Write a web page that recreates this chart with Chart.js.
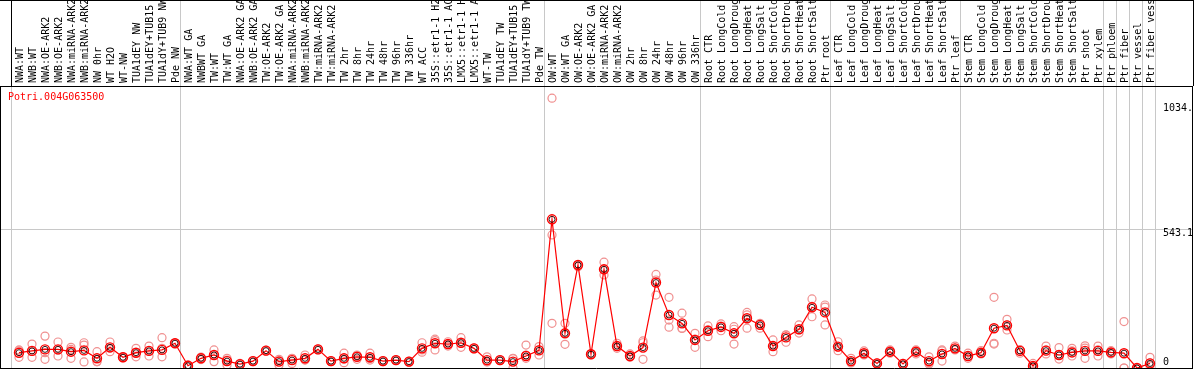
<!DOCTYPE html>
<html><head><meta charset="utf-8">
<script src="https://cdn.jsdelivr.net/npm/chart.js@4.4.1/dist/chart.umd.min.js"></script>
<style>html,body{margin:0;padding:0;background:#fff;overflow:hidden}canvas{display:block}</style>
</head><body>
<canvas id="c" width="1194" height="370"></canvas>
<script>
const geneId = 'Potri.004G063500';
const categories = [
 'NWA:WT','NWB:WT','NWA:OE-ARK2','NWB:OE-ARK2','NWA:miRNA-ARK2','NWB:miRNA-ARK2','NW 0hr','WT H2O','WT-NW','TUA1dEY NW','TUA1dEY+TUB15','TUA1dY+TUB9 NW','Pde NW',
 'NWA:WT GA','NWBWT GA','TW:WT','TW:WT GA','NWA:OE-ARK2 GA','NWB:OE-ARK2 GA','TW:OE-ARK2','TW:OE-ARK2 GA','NWA:miRNA-ARK2','NWB:miRNA-ARK2','TW:miRNA-ARK2','TW:miRNA-ARK2','TW 2hr','TW 8hr','TW 24hr','TW 48hr','TW 96hr','TW 336hr','WT ACC','35S::etr1-1 H2','35S::etr1-1 AC','LMX5::etr1-1 H','LMX5::etr1-1 A','WT-TW','TUA1dEY TW','TUA1dEY+TUB15','TUA1dY+TUB9 TW','Pde TW',
 'OW:WT','OW:WT GA','OW:OE-ARK2','OW:OE-ARK2 GA','OW:miRNA-ARK2','OW:miRNA-ARK2','OW 2hr','OW 8hr','OW 24hr','OW 48hr','OW 96hr','OW 336hr',
 'Root CTR','Root LongCold','Root LongDroug','Root LongHeat','Root LongSalt','Root ShortCold','Root ShortDrou','Root ShortHeat','Root ShortSalt','Ptr root',
 'Leaf CTR','Leaf LongCold','Leaf LongDroug','Leaf LongHeat','Leaf LongSalt','Leaf ShortCold','Leaf ShortDrou','Leaf ShortHeat','Leaf ShortSalt','Ptr leaf',
 'Stem CTR','Stem LongCold','Stem LongDroug','Stem LongHeat','Stem LongSalt','Stem ShortCold','Stem ShortDrou','Stem ShortHeat','Stem ShortSalt','Ptr shoot','Ptr xylem',
 'Ptr phloem','Ptr fiber','Ptr vessel','Ptr fiber vess'
];
const means = [
 60,67,73,73,64,69,38,81,42,60,67,71,97,
 9,38,51,27,15,27,68,25,31,38,73,27,38,44,42,27,31,25,77,97,94,99,77,31,31,25,47,69,
 583,136,404,54,387,86,47,80,335,208,175,110,
 146,161,136,195,169,86,120,152,238,218,
 84,27,58,18,64,16,64,27,55,77,
 47,60,156,167,67,8,68,51,61,67,67,
 61,58,0,18
];
const rep1 = [71,94,125,102,81,99,64,102,45,77,86,119,95, 12,43,71,38,12,27,68,34,38,51,73,27,58,51,58,27,31,25,99,113,103,119,77,44,31,38,90,84, 1058,175,404,54,415,97,55,99,367,277,215,136, 165,173,162,218,175,110,129,169,271,247, 103,38,67,18,71,16,64,44,71,86, 58,68,277,191,58,18,86,80,77,87,86, 55,182,0,42];
const rep2 = [42,42,34,47,38,90,25,64,40,44,47,77,97, 8,38,25,12,18,25,66,12,18,31,71,25,21,34,31,25,29,23,71,71,86,81,75,25,29,0,51,51, 522,93,404,52,365,77,42,106,345,188,156,81, 123,146,94,156,156,64,101,137,201,169, 68,20,51,16,58,14,71,16,27,71, 38,55,97,149,71,0,55,35,47,38,47, 68,0,0,8];
const rep3 = [67,65,60,70,73,24,25,77,42,60,67,44,99, 7,33,51,31,15,29,70,29,37,32,75,29,35,47,37,29,33,27,62,107,93,97,79,24,33,37,38,72, 175,136,397,56,387,84,45,34,286,160,155,113, 150,164,152,208,169,86,130,149,242,239, 82,24,55,20,63,18,55,21,67,74, 45,57,94,169,72,6,71,51,67,78,71, 60,0,0,20];
const groupStarts = [0,13,41,53,63,73,84,85,86,87,88];
const yTicks = [0, 543.1, 1034];
const yTickLabels = [['0','',''],'543.1','1034.'];

const MONO = "'DejaVu Sans Mono','Liberation Mono',monospace";
const xMin = -19/13, xMax = xMin + 1192/13;
const cellShift = 7.7/13;
const yMax = 1105.8;

const meanPts = means.map((v,i)=>({x:i,y:v}));
const repPts = [];
[rep1,rep2,rep3].forEach(r=>r.forEach((v,i)=>{ if(v!==null) repPts.push({x:i,y:v}); }));
const boundaries = groupStarts.map(k=>k-cellShift);

function fixBox(size, dim){
  return function(s){ s[dim] = size; s.paddingLeft = 0; s.paddingRight = 0; s.paddingTop = 0; s.paddingBottom = 0; };
}

const framePlugin = {
  id:'frame',
  afterDraw(chart){
    const c = chart.ctx, a = chart.chartArea;
    c.save();
    c.strokeStyle = '#000'; c.lineWidth = 1;
    c.beginPath();
    c.moveTo(0, 0.5); c.lineTo(1194, 0.5);
    c.moveTo(1193.5, 0); c.lineTo(1193.5, a.top);
    c.stroke();
    c.fillStyle = '#ff0000';
    c.font = '10px ' + MONO;
    c.textBaseline = 'middle'; c.textAlign = 'left';
    c.fillText(geneId, 8, 97);
    c.restore();
  }
};

new Chart(document.getElementById('c'), {
  type:'line',
  data:{datasets:[
    {label:'replicates', type:'scatter', data:repPts, xAxisID:'x', yAxisID:'y', showLine:false,
     pointStyle:'circle', pointRadius:4, pointBorderColor:'#f09090', pointBackgroundColor:'rgba(0,0,0,0)', pointBorderWidth:1.2, order:3},
    {label:'mean', data:meanPts, xAxisID:'x', yAxisID:'y', borderColor:'#ff0000', borderWidth:1.2, tension:0,
     pointRadius:4.5, pointBorderColor:'#ff0000', pointBackgroundColor:'rgba(0,0,0,0)', pointBorderWidth:1.4, order:2},
    {label:'mean core', data:meanPts, xAxisID:'x', yAxisID:'y', showLine:false,
     pointRadius:3, pointBorderColor:'#200000', pointBackgroundColor:'rgba(0,0,0,0)', pointBorderWidth:0.9, order:1}
  ]},
  options:{
    responsive:false, animation:false, devicePixelRatio:1,
    layout:{autoPadding:false, padding:{left:0,right:2,top:0,bottom:2}},
    plugins:{legend:{display:false}, tooltip:{enabled:false}, title:{display:false}},
    scales:{
      x:{type:'linear', position:'bottom', min:xMin, max:xMax,
         ticks:{display:false}, grid:{display:false}, border:{display:true,color:'#000',width:1},
         afterFit:fixBox(0,'height')},
      xg:{type:'linear', position:'top', min:xMin, max:xMax, weight:0,
         afterBuildTicks(s){s.ticks = boundaries.map(v=>({value:v}));},
         ticks:{display:false, autoSkip:false},
         grid:{display:true, color:'#c8c8c8', lineWidth:1, drawTicks:true, tickLength:86,
               tickColor:(c)=> c.index===0 ? '#000' : '#c8c8c8'},
         border:{display:true,color:'#000',width:1},
         afterFit:fixBox(0,'height')},
      xTop:{type:'linear', position:'top', min:xMin, max:xMax, weight:10,
         afterBuildTicks(s){s.ticks = categories.map((c,i)=>({value:i}));},
         ticks:{autoSkip:false, minRotation:90, maxRotation:90, padding:3, labelOffset:13.5, color:'#000',
                font:{family:MONO, size:10}, callback:(v,i)=>categories[i]},
         grid:{display:false, drawTicks:false}, border:{display:false},
         afterFit:fixBox(86,'height')},
      y:{type:'linear', position:'right', min:0, max:yMax,
         afterBuildTicks(s){s.ticks = yTicks.map(v=>({value:v}));},
         ticks:{mirror:true, crossAlign:'far', padding:1, color:'#000', font:{family:MONO,size:10,lineHeight:1.0}, labelOffset:4,
                callback:(v,i)=>yTickLabels[i]},
         grid:{drawTicks:false, color:(c)=> (c.tick && c.tick.value===543.1) ? '#c8c8c8' : 'rgba(0,0,0,0)'},
         border:{display:true,color:'#000',width:1},
         afterFit:fixBox(0,'width')},
      yl:{type:'linear', position:'left', min:0, max:yMax,
         ticks:{display:false}, grid:{display:false},
         border:{display:true,color:'#000',width:1},
         afterFit:fixBox(0,'width')}
    }
  },
  plugins:[framePlugin]
});
</script>
</body></html>
